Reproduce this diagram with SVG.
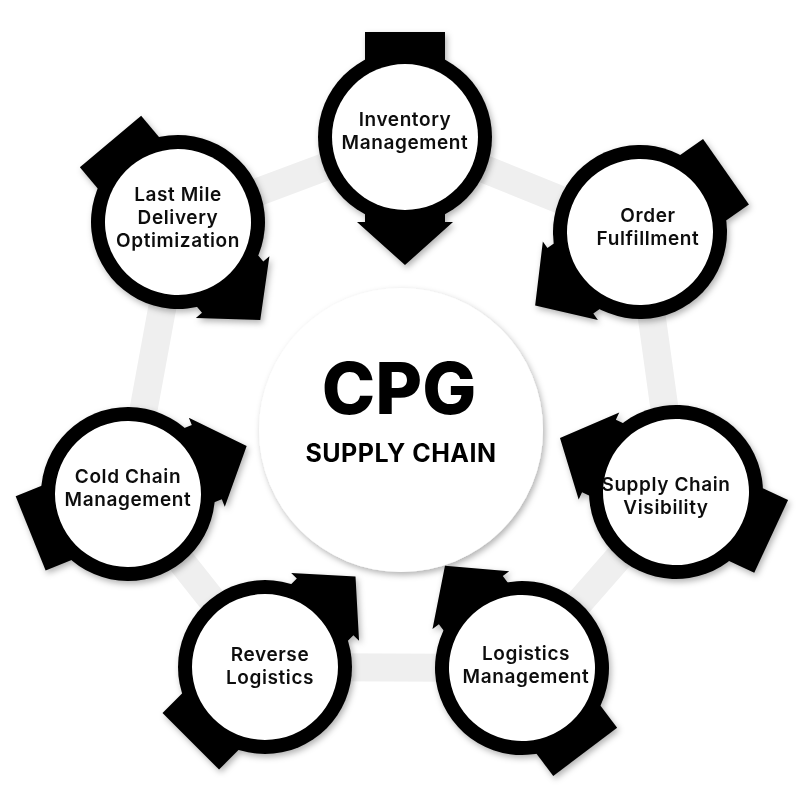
<svg xmlns="http://www.w3.org/2000/svg" width="803" height="802" viewBox="0 0 803 802">
<style>
.lbl{font-family:Inter,"Open Sans","Liberation Sans",sans-serif;font-weight:600;font-size:19px;letter-spacing:0.6px;fill:#111;text-anchor:middle}
.ring{fill:#000}
.inner{fill:#fff}
</style>
<defs>
<filter id="sh" x="-30%" y="-30%" width="160%" height="160%"><feDropShadow dx="2" dy="3" stdDeviation="3" flood-opacity="0.3"/></filter>
<g id="nodeShape">
<rect x="-40" y="-105" width="80" height="110" class="ring"/>
<path d="M-40 0 V85 H-48 L0 128 L48 85 H40 V0 Z" class="ring"/>
<circle r="87" class="ring"/>
<circle r="73" class="inner"/>
</g>
</defs>
<rect width="803" height="802" fill="#fff"/>
<g id="connectors">
<polygon points="405,137 640,232 676,492 522,668 265,667 128,494 178,222" fill="none" stroke="#efefef" stroke-width="28" stroke-linejoin="round"/>
</g>
<g id="center" filter="url(#sh)">
<circle cx="401" cy="430" r="142" fill="#fff"/>
<text x="399" y="414" text-anchor="middle" font-family="Inter,'Liberation Sans',sans-serif" font-weight="800" font-size="72" fill="#000">CPG</text>
<text x="401" y="462" text-anchor="middle" font-family="Inter,'Liberation Sans',sans-serif" font-weight="700" font-size="25" letter-spacing="0.5" fill="#000">SUPPLY CHAIN</text>
</g>
<g id="n1" filter="url(#sh)"><use href="#nodeShape" transform="translate(405,137)"/>
<text class="lbl" x="405" y="126">Inventory</text><text class="lbl" x="405" y="149">Management</text></g>
<g id="n2" filter="url(#sh)"><use href="#nodeShape" transform="translate(640,232) rotate(55)"/>
<text class="lbl" x="648" y="222">Order</text><text class="lbl" x="648" y="245">Fulfillment</text></g>
<g id="n3" filter="url(#sh)"><use href="#nodeShape" transform="translate(676,492) rotate(115)"/>
<text class="lbl" x="666" y="491">Supply Chain</text><text class="lbl" x="666" y="514">Visibility</text></g>
<g id="n4" filter="url(#sh)"><use href="#nodeShape" transform="translate(522,668) rotate(143)"/>
<text class="lbl" x="526" y="660">Logistics</text><text class="lbl" x="526" y="683">Management</text></g>
<g id="n5" filter="url(#sh)"><use href="#nodeShape" transform="translate(265,667) rotate(-135)"/>
<text class="lbl" x="270" y="661">Reverse</text><text class="lbl" x="270" y="684">Logistics</text></g>
<g id="n6" filter="url(#sh)"><use href="#nodeShape" transform="translate(128,494) rotate(-112)"/>
<text class="lbl" x="128" y="483">Cold Chain</text><text class="lbl" x="128" y="506">Management</text></g>
<g id="n7" filter="url(#sh)"><use href="#nodeShape" transform="translate(178,222) rotate(-40)"/>
<text class="lbl" x="178" y="201">Last Mile</text><text class="lbl" x="178" y="224">Delivery</text><text class="lbl" x="178" y="247">Optimization</text></g>
</svg>
